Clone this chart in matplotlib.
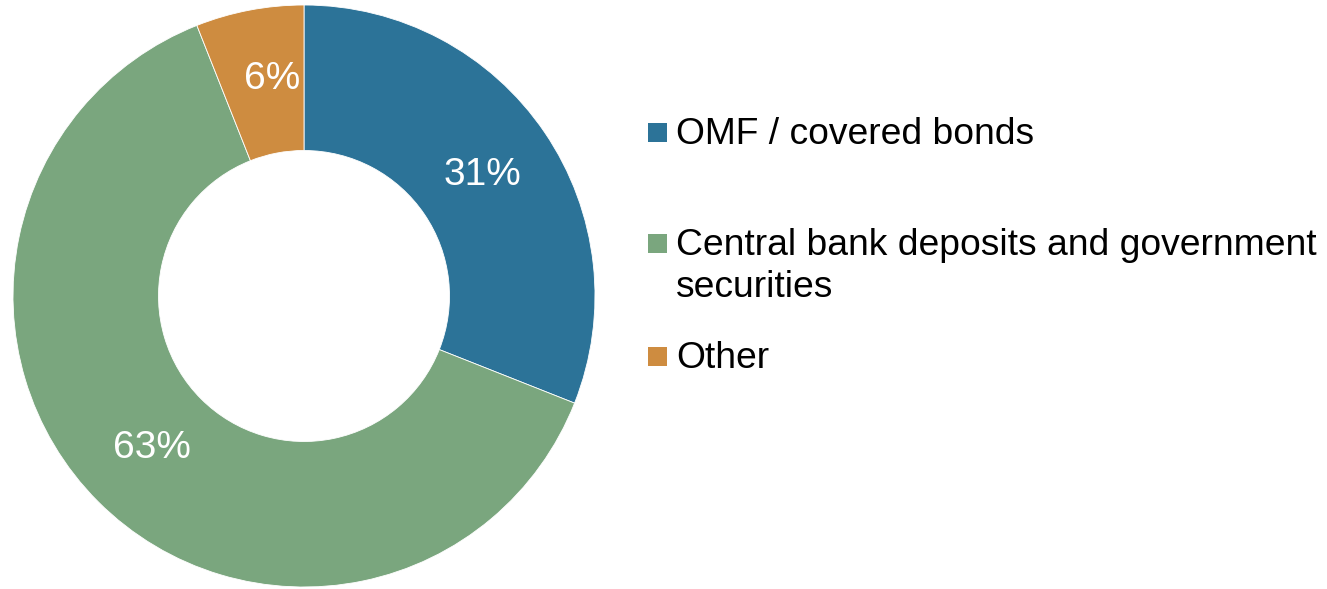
import matplotlib.pyplot as plt
from matplotlib.patches import Rectangle

plt.rcParams["font.family"] = ["Liberation Sans", "DejaVu Sans"]

LABELS = ["OMF / covered bonds", "Central bank deposits and government\nsecurities", "Other"]
SHARES = [31, 63, 6]
COLORS = ["#2c7398", "#7aa67e", "#ce8c40"]

W, H = 1327, 589
fig = plt.figure(figsize=(W / 100, H / 100), dpi=100)

# donut: centre (304, 296) px, outer radius 291 px
cx, cy, r = 304, 296, 291
ax = fig.add_axes([(cx - r) / W, (H - cy - r) / H, 2 * r / W, 2 * r / H])
wedges, texts, autotexts = ax.pie(
    SHARES,
    colors=COLORS,
    startangle=90,
    counterclock=False,
    radius=1.0,
    wedgeprops=dict(width=0.5, edgecolor="white", linewidth=0.6),
    autopct="%d%%",
    pctdistance=0.74,
    textprops=dict(color="white", fontsize=28),
)
ax.set_xlim(-1, 1)
ax.set_ylim(-1, 1)
ax.set_aspect("equal")
ax.axis("off")

# small slice label sits a bit right/up in the original
x, y = autotexts[2].get_position()
autotexts[2].set_position((x + 0.03, y + 0.02))

# legend drawn by hand to keep the uneven spacing of the original
baselines = [144, 255, 368]
line_pitch = 42
for lab, col, base in zip(LABELS, COLORS, baselines):
    fig.add_artist(Rectangle((648 / W, (H - base + 2) / H), 19 / W, 19 / H,
                             transform=fig.transFigure, color=col, lw=0))
    for i, line in enumerate(lab.split("\n")):
        fig.text(676 / W, (H - base - i * line_pitch) / H, line,
                 fontsize=26.8, va="baseline", ha="left", color="black")

fig.savefig("out.png", dpi=100)
